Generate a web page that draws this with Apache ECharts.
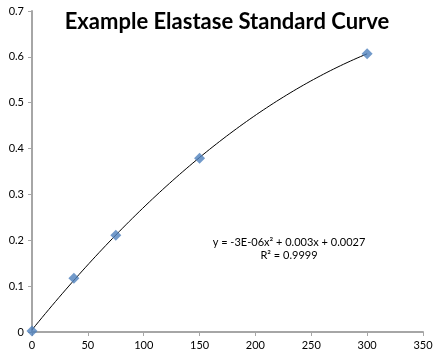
<!DOCTYPE html>
<html>
<head>
<meta charset="utf-8">
<script src="https://cdn.jsdelivr.net/npm/echarts@6/dist/echarts.min.js"></script>
<style>html,body{margin:0;padding:0;background:#fff}#c{width:444px;height:359px}</style>
</head>
<body>
<div id="c"></div>
<script>
var concentrations = [0, 37.5, 75, 150, 300];
var absorbances = [0.002, 0.117, 0.211, 0.379, 0.607];
var xTicks = [0, 50, 100, 150, 200, 250, 300, 350];
var yTicks = [0, 0.1, 0.2, 0.3, 0.4, 0.5, 0.6, 0.7];
var titleText = 'Example Elastase Standard Curve';
var equationText = 'y = -3E-06x\u00B2 + 0.003x + 0.0027';
var r2Text = 'R\u00B2 = 0.9999';

// 2nd-order least-squares trendline from the data points
function polyFit2(xs, ys) {
  var n = xs.length, S = [0,0,0,0,0], T = [0,0,0];
  for (var i = 0; i < n; i++) {
    var p = 1;
    for (var k = 0; k < 5; k++) { S[k] += p; if (k < 3) T[k] += p * ys[i]; p *= xs[i]; }
  }
  var A = [[S[0],S[1],S[2],T[0]],[S[1],S[2],S[3],T[1]],[S[2],S[3],S[4],T[2]]];
  for (var c = 0; c < 3; c++) {
    for (var r = c + 1; r < 3; r++) {
      var f = A[r][c] / A[c][c];
      for (var j = c; j < 4; j++) A[r][j] -= f * A[c][j];
    }
  }
  var coef = [0,0,0];
  for (var r2 = 2; r2 >= 0; r2--) {
    var s = A[r2][3];
    for (var j2 = r2 + 1; j2 < 3; j2++) s -= A[r2][j2] * coef[j2];
    coef[r2] = s / A[r2][r2];
  }
  return coef;
}
var coef = polyFit2(concentrations, absorbances);
var trend = [];
for (var x = 0; x <= 300; x += 3) trend.push([x, coef[0] + coef[1]*x + coef[2]*x*x]);

var chart = echarts.init(document.getElementById('c'));
var font = 'Lato, "Open Sans", sans-serif';
chart.setOption({
  animation: false,
  title: {
    text: titleText, left: 222, top: 6, textAlign: 'center',
    textStyle: { fontFamily: font, fontWeight: 'bold', fontSize: 22, color: '#000' }
  },
  grid: { left: 32, right: 21, top: 11, bottom: 27 },
  xAxis: {
    type: 'value', min: 0, max: 350, interval: 50,
    axisLine: { show: true, lineStyle: { color: '#a6a6a6', width: 2 } },
    axisTick: { show: true, length: 4, lineStyle: { color: '#a6a6a6' } },
    axisLabel: { fontFamily: font, fontSize: 11, color: '#000', margin: 8 },
    splitLine: { show: false }
  },
  yAxis: {
    type: 'value', min: 0, max: 0.7, interval: 0.1,
    axisLine: { show: true, lineStyle: { color: '#a6a6a6', width: 2 } },
    axisTick: { show: true, length: 4, lineStyle: { color: '#a6a6a6' } },
    axisLabel: { fontFamily: font, fontSize: 11, color: '#000', margin: 8,
      formatter: function (v) { return String(Math.round(v * 10) / 10); } },
    splitLine: { show: false }
  },
  series: [
    {
      type: 'line', data: trend, showSymbol: false, smooth: false,
      lineStyle: { color: '#000', width: 1 }, z: 2
    },
    {
      type: 'scatter', data: concentrations.map(function (c, i) { return [c, absorbances[i]]; }),
      symbol: 'diamond', symbolSize: 11,
      itemStyle: { color: '#4f81bd' }, z: 3
    }
  ],
  graphic: [
    { type: 'text', x: 289, y: 237, style: { text: equationText, textAlign: 'center', font: '11px ' + font, fill: '#000' } },
    { type: 'text', x: 289, y: 250, style: { text: r2Text, textAlign: 'center', font: '11px ' + font, fill: '#000' } }
  ]
});
</script>
</body>
</html>
